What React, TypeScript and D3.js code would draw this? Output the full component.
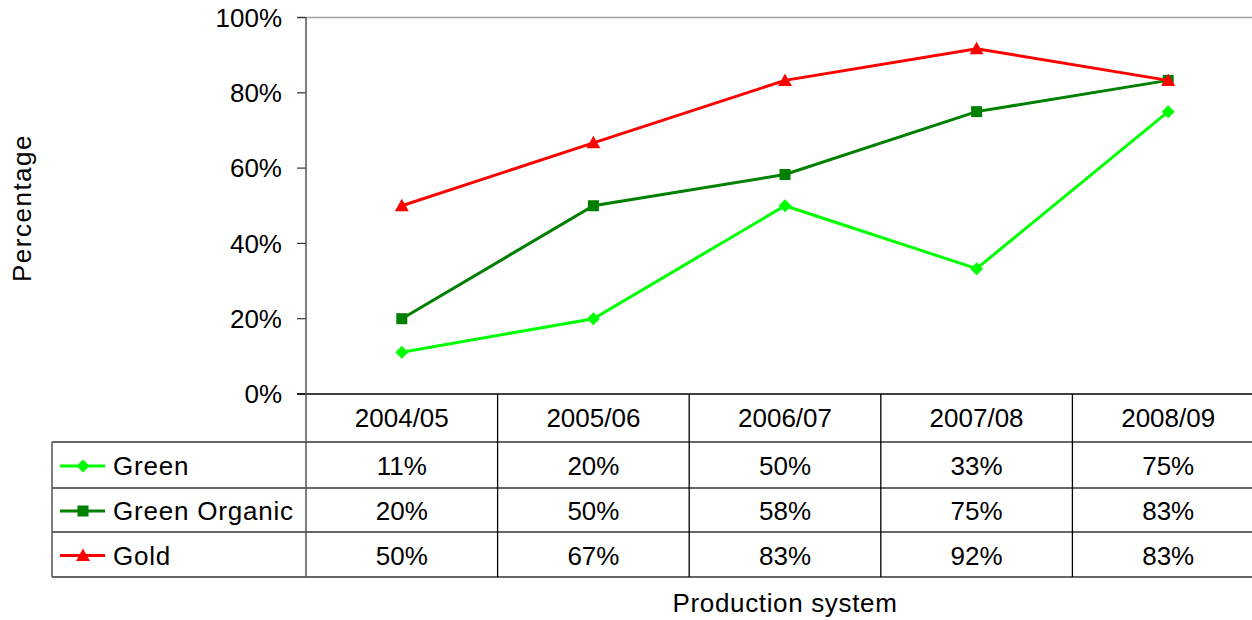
import React from "react";
import * as d3 from "d3";

const categories = ["2004/05", "2005/06", "2006/07", "2007/08", "2008/09"];
const seriesNames = ["Green", "Green Organic", "Gold"];
const greenValues = [0.111, 0.2, 0.5, 0.333, 0.75];
const greenOrganicValues = [0.2, 0.5, 0.583, 0.75, 0.833];
const goldValues = [0.5, 0.667, 0.833, 0.917, 0.833];
const yTicks = [0, 0.2, 0.4, 0.6, 0.8, 1.0];
const colors = ["#00FF00", "#008000", "#FF0000"];
const markers = ["diamond", "square", "triangle"];

const W = 1252;
const H = 620;
const left = 306;
const right = 1264;
const top = 17.5;
const bottom = 394;
const rowEdges = [394, 442, 488, 532, 577];
const tableLeft = 52;
const FONT = "'Liberation Sans', Arial, sans-serif";
const FS = 26;

function Marker({ type, x, y, color }: { type: string; x: number; y: number; color: string }) {
  if (type === "diamond") {
    const s = 6.5;
    return <path d={`M${x},${y - s}L${x + s},${y}L${x},${y + s}L${x - s},${y}Z`} fill={color} />;
  }
  if (type === "square") {
    const s = 5.5;
    return <rect x={x - s} y={y - s} width={2 * s} height={2 * s} fill={color} />;
  }
  const s = 7;
  return <path d={`M${x},${y - s}L${x + s},${y + 5.5}L${x - s},${y + 5.5}Z`} fill={color} />;
}

export default function App() {
  const x = d3.scaleBand<string>().domain(categories).range([left, right]);
  const y = d3.scaleLinear().domain([0, 1]).range([bottom, top]);
  const series = [greenValues, greenOrganicValues, goldValues];
  const fmt = d3.format(".0%");
  const line = d3
    .line<number>()
    .x((_, i) => (x(categories[i]) as number) + x.bandwidth() / 2)
    .y((d) => y(d));

  return (
    <svg width={W} height={H} style={{ position: "absolute", left: 0, top: 0, background: "#fff" }} fontFamily={FONT}>
      <rect x={0} y={0} width={W} height={H} fill="#fff" />
      <line x1={297} x2={right} y1={top} y2={top} stroke="#a0a0a0" strokeWidth={1.5} />
      {yTicks.map((t) => (
        <g key={t}>
          <line x1={297} x2={left} y1={y(t)} y2={y(t)} stroke="#333" strokeWidth={1.2} />
          <text x={282} y={y(t)} dy="0.35em" textAnchor="end" fontSize={FS} fill="#000">
            {fmt(t)}
          </text>
        </g>
      ))}
      <line x1={297} x2={right} y1={rowEdges[0]} y2={rowEdges[0]} stroke="#000" strokeWidth={1.5} />
      {rowEdges.slice(1).map((r) => (
        <line key={r} x1={tableLeft} x2={right} y1={r} y2={r} stroke="#333" strokeWidth={1.5} />
      ))}
      <line x1={tableLeft} x2={tableLeft} y1={rowEdges[1]} y2={rowEdges[4]} stroke="#555" strokeWidth={1.5} />
      {categories.map((c, i) =>
        i === 0 ? null : (
          <line key={c} x1={x(c) as number} x2={x(c) as number} y1={rowEdges[0]} y2={rowEdges[4]} stroke="#000" strokeWidth={1.3} />
        )
      )}
      <line x1={left} x2={left} y1={top} y2={rowEdges[4]} stroke="#555" strokeWidth={1.5} />
      {categories.map((c) => (
        <text key={c} x={(x(c) as number) + x.bandwidth() / 2} y={(rowEdges[0] + rowEdges[1]) / 2} dy="0.35em" textAnchor="middle" fontSize={FS}>
          {c}
        </text>
      ))}
      {series.map((vals, si) => {
        const cy = (rowEdges[si + 1] + rowEdges[si + 2]) / 2 + 1;
        return (
          <g key={si}>
            <line x1={60} x2={105} y1={cy} y2={cy} stroke={colors[si]} strokeWidth={3} />
            <Marker type={markers[si]} x={83} y={cy} color={colors[si]} />
            <text x={113} y={cy} dy="0.35em" fontSize={FS} letterSpacing={0.8}>
              {seriesNames[si]}
            </text>
            {vals.map((v, i) => (
              <text key={i} x={(x(categories[i]) as number) + x.bandwidth() / 2} y={cy} dy="0.35em" textAnchor="middle" fontSize={FS}>
                {fmt(v)}
              </text>
            ))}
          </g>
        );
      })}
      {series.map((vals, si) => (
        <g key={si}>
          <path d={line(vals) as string} fill="none" stroke={colors[si]} strokeWidth={3} />
          {vals.map((v, i) => (
            <Marker key={i} type={markers[si]} x={(x(categories[i]) as number) + x.bandwidth() / 2} y={y(v)} color={colors[si]} />
          ))}
        </g>
      ))}
      <text x={(left + right) / 2} y={603} dy="0.35em" textAnchor="middle" fontSize={FS} letterSpacing={0.65}>
        Production system
      </text>
      <text transform={`translate(22,${208}) rotate(-90)`} dy="0.35em" textAnchor="middle" fontSize={FS} letterSpacing={1.5}>
        Percentage
      </text>
    </svg>
  );
}
